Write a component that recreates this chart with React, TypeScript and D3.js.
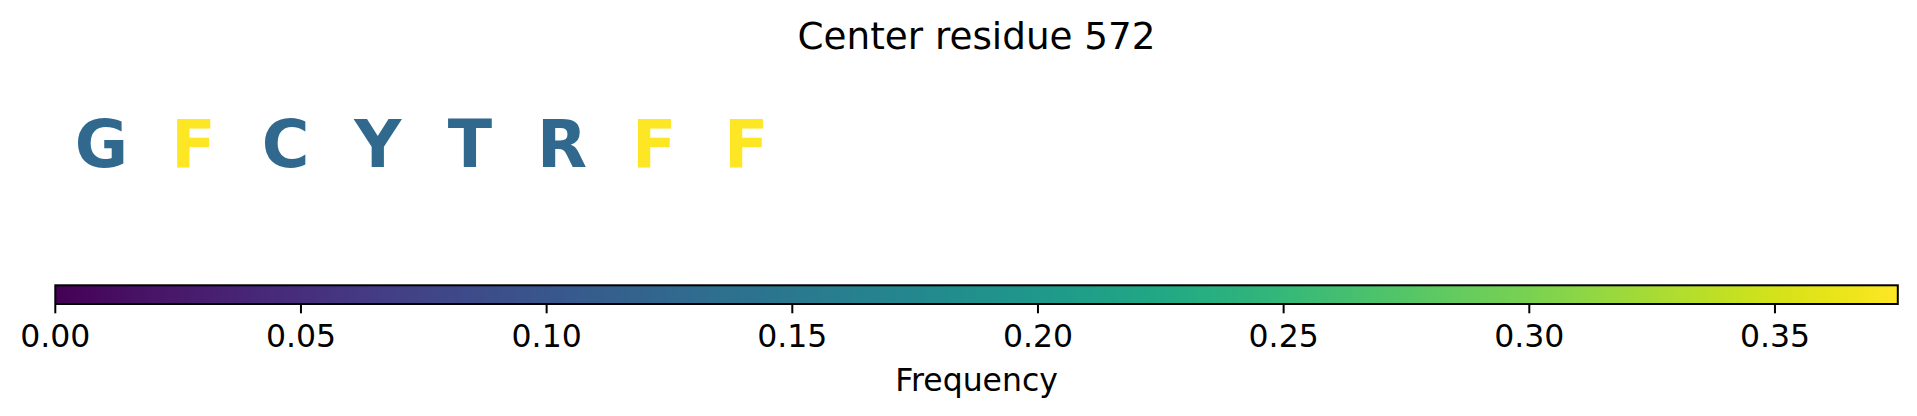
import React from "react";
import * as d3 from "d3";

const WIDTH = 1917;
const HEIGHT = 416;

const titleText = "Center residue 572";
const residues = ["G", "F", "C", "Y", "T", "R", "F", "F"];
const frequencies = [0.125, 0.375, 0.125, 0.125, 0.125, 0.125, 0.375, 0.375];
const windowDomain = [0, 20];
const colorDomain = [0, 0.375];
const tickValues = [0, 0.05, 0.1, 0.15, 0.2, 0.25, 0.3, 0.35];
const colorbarLabel = "Frequency";

const FONT = "'DejaVu Sans', sans-serif";

export default function App() {
  const x = d3.scaleLinear().domain(windowDomain).range([55.3, 1897.8]);
  const cx = d3.scaleLinear().domain(colorDomain).range([55.3, 1897.8]);
  const color = d3.scaleSequential(d3.interpolateViridis).domain(colorDomain);
  const stops = d3.range(0, 1.0001, 0.02);
  const barTop = 285.3;
  const barBottom = 304;

  return (
    <svg
      width={WIDTH}
      height={HEIGHT}
      style={{ position: "absolute", left: 0, top: 0, background: "#fff" }}
    >
      <defs>
        <linearGradient id="viridisGrad" x1="0" x2="1" y1="0" y2="0">
          {stops.map((t, i) => (
            <stop key={i} offset={`${t * 100}%`} stopColor={d3.interpolateViridis(t)} />
          ))}
        </linearGradient>
      </defs>
      <rect x={0} y={0} width={WIDTH} height={HEIGHT} fill="#fff" />
      <text
        x={(cx.range()[0] + cx.range()[1]) / 2}
        y={49.3}
        textAnchor="middle"
        fontFamily={FONT}
        fontSize={37.3}
        fill="#000"
      >
        {titleText}
      </text>
      {residues.map((r, i) => (
        <text
          key={i}
          x={x(i + 0.5)}
          y={166.7}
          textAnchor="middle"
          fontFamily={FONT}
          fontWeight="bold"
          fontSize={65}
          fill={color(frequencies[i])}
        >
          {r}
        </text>
      ))}
      <rect
        x={cx.range()[0]}
        y={barTop}
        width={cx.range()[1] - cx.range()[0]}
        height={barBottom - barTop}
        fill="url(#viridisGrad)"
        stroke="#000"
        strokeWidth={2}
      />
      {tickValues.map((t, i) => (
        <g key={i} transform={`translate(${cx(t)},0)`}>
          <line y1={barBottom + 1} y2={313.3} stroke="#000" strokeWidth={2} />
          <text
            y={347.3}
            textAnchor="middle"
            fontFamily={FONT}
            fontSize={31.5}
            fill="#000"
          >
            {d3.format(".2f")(t)}
          </text>
        </g>
      ))}
      <text
        x={(cx.range()[0] + cx.range()[1]) / 2}
        y={390.7}
        textAnchor="middle"
        fontFamily={FONT}
        fontSize={31.5}
        fill="#000"
      >
        {colorbarLabel}
      </text>
    </svg>
  );
}
